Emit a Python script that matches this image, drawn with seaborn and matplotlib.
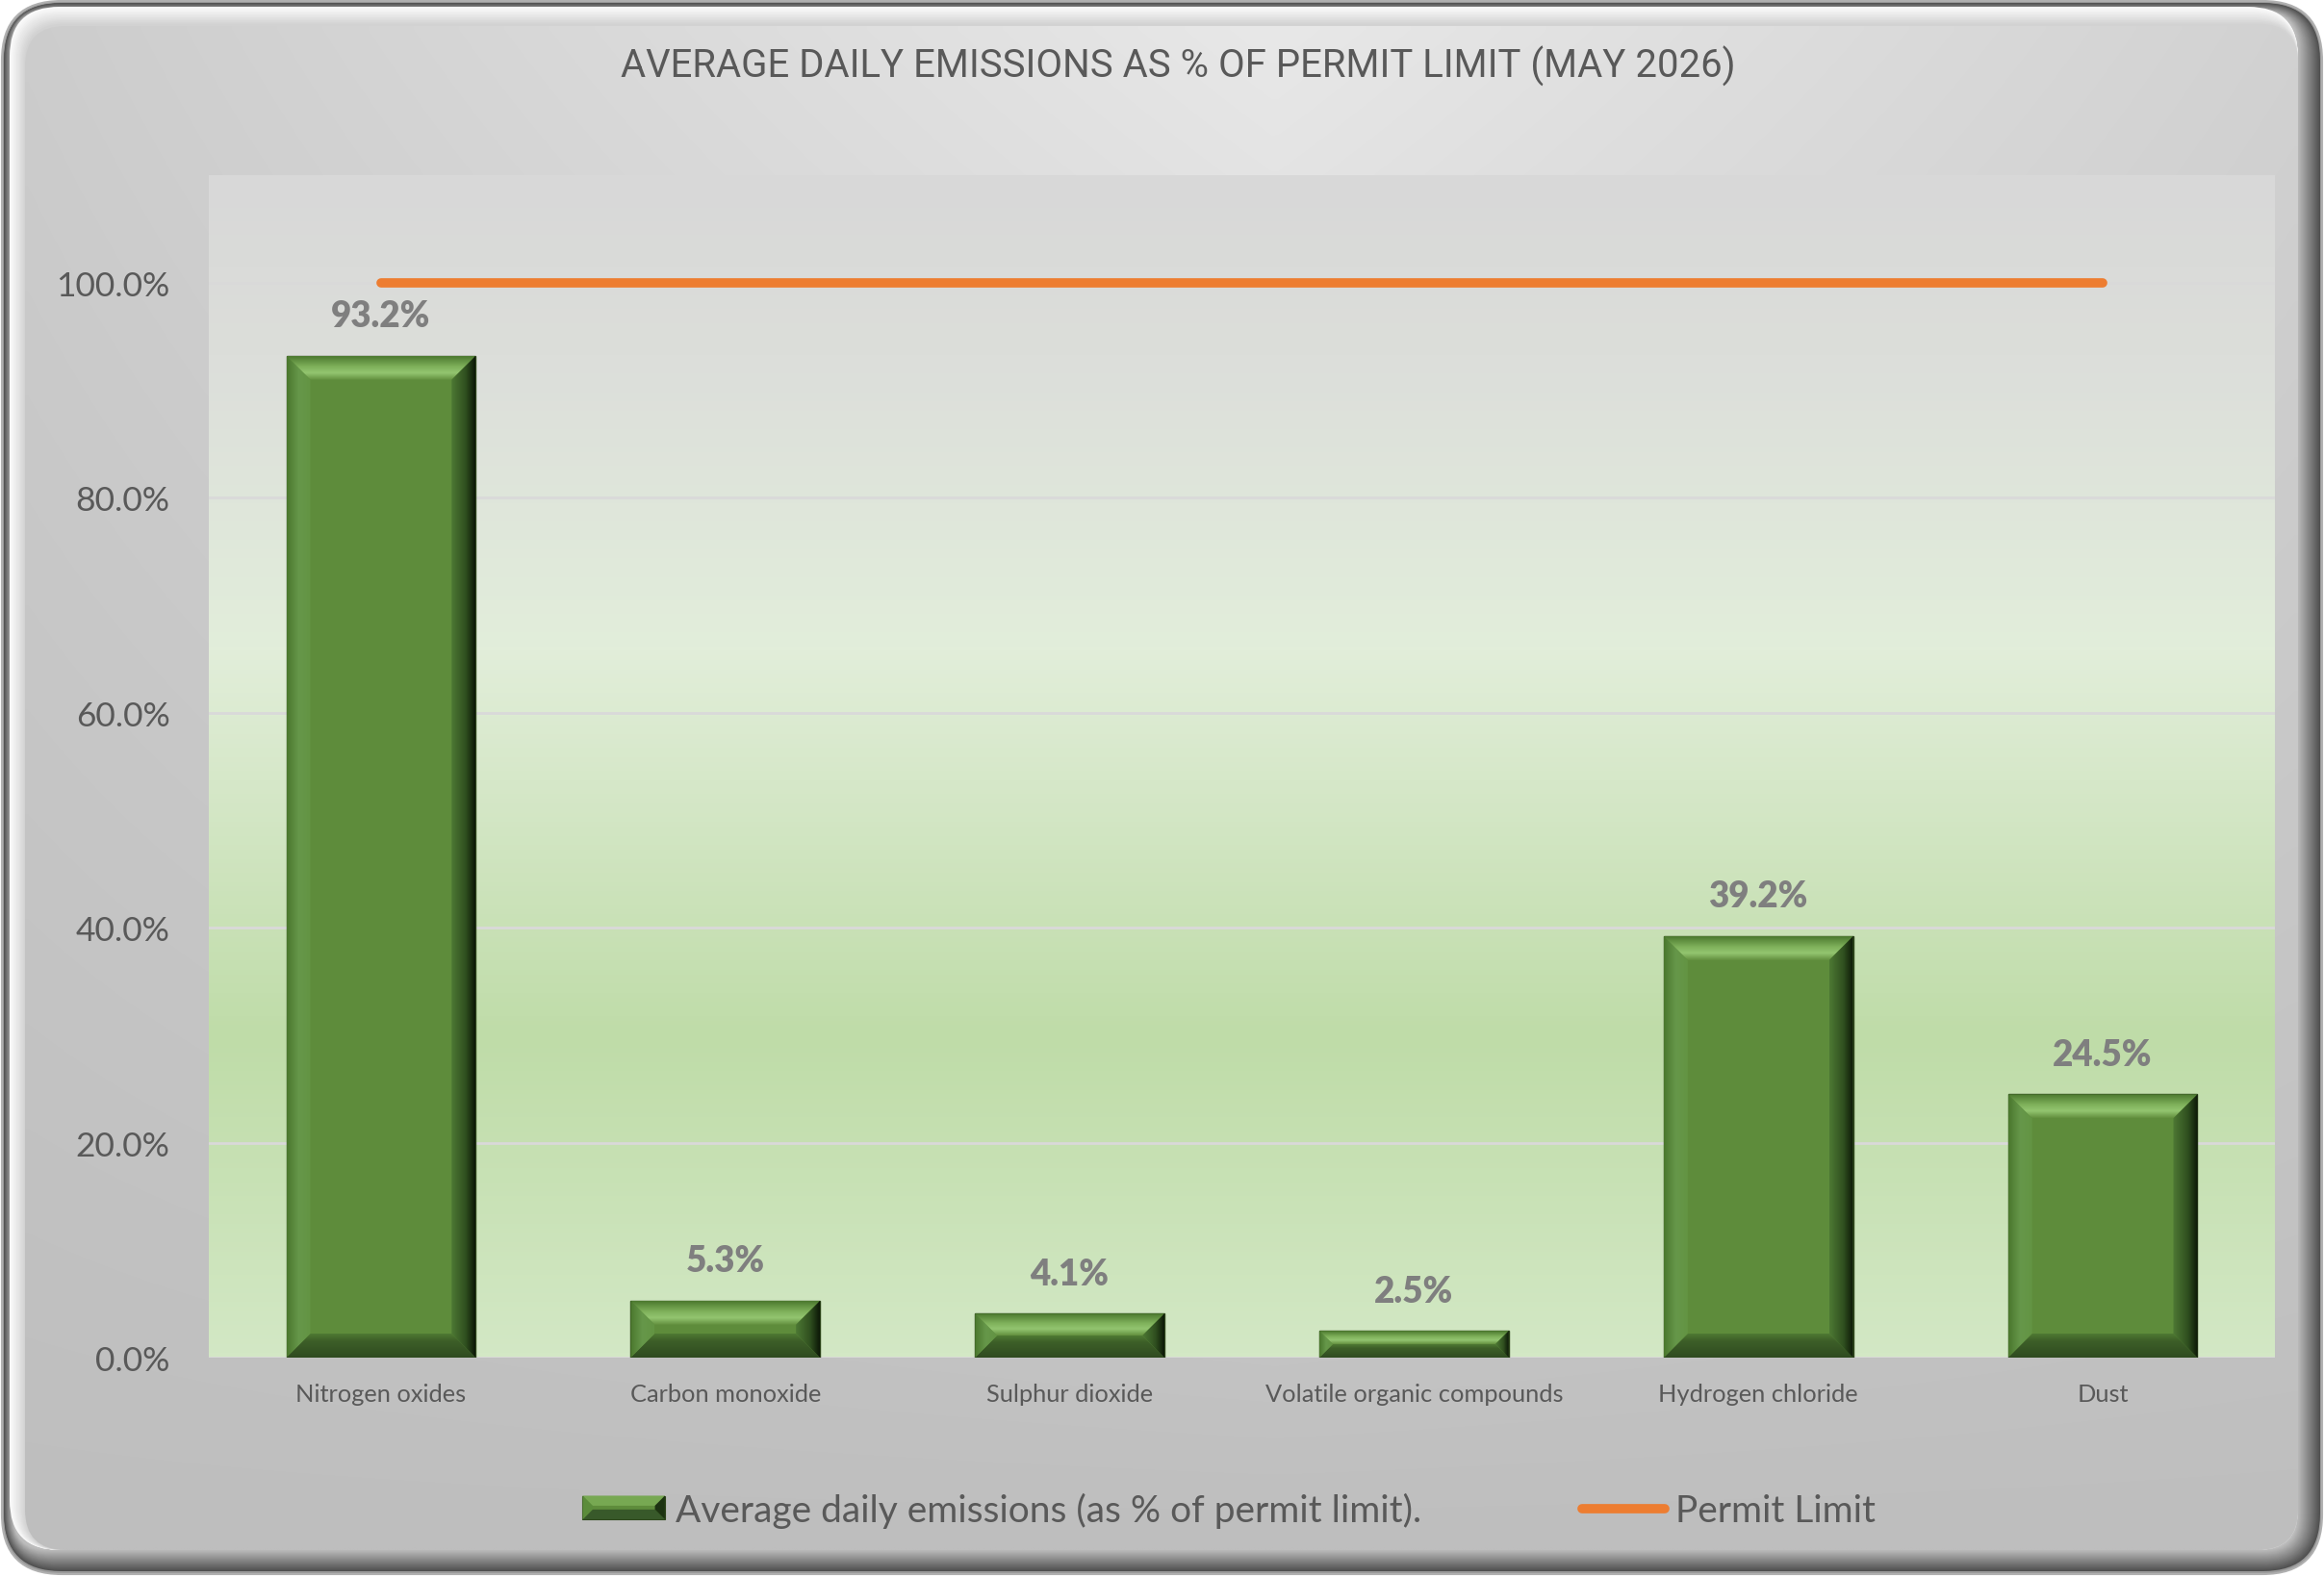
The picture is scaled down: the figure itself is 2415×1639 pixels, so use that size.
import numpy as np
import pandas as pd
import matplotlib.pyplot as plt
import seaborn as sns
from matplotlib import font_manager
from matplotlib.colors import LinearSegmentedColormap, to_rgb
from matplotlib.lines import Line2D
from matplotlib.patches import FancyBboxPatch, Patch, Polygon, Rectangle
from matplotlib.ticker import PercentFormatter

# values
pollutants = ["Nitrogen oxides", "Carbon monoxide", "Sulphur dioxide",
              "Volatile organic compounds", "Hydrogen chloride", "Dust"]
emissions_pct = [93.2, 5.3, 4.1, 2.5, 39.2, 24.5]
permit_limit_pct = [100.0, 100.0, 100.0, 100.0, 100.0, 100.0]
y_ticks = [0, 20, 40, 60, 80, 100]

title = "AVERAGE DAILY EMISSIONS AS % OF PERMIT LIMIT (MAY 2026)"
bar_label = "Average daily emissions (as % of permit limit)."
line_label = "Permit Limit"

W, H = 2415, 1640
GREEN = "#5e8c3b"
ORANGE = "#ed7d31"
TXT = "#595959"

sns.set_theme(style="white")
plt.rcParams["font.family"] = ["Lato", "DejaVu Sans"]

fonts = {f.name for f in font_manager.fontManager.ttflist}
title_font = "Liberation Sans Narrow" if "Liberation Sans Narrow" in fonts else "Roboto"


def cmap_from(colors):
    return LinearSegmentedColormap.from_list("g", colors)


fig = plt.figure(figsize=(W / 100, H / 100), dpi=100)
fig.patch.set_facecolor("white")

# ---- rounded chart frame, drawn in pixel coords (y pointing down) ----
bg = fig.add_axes([0, 0, 1, 1])
bg.axis("off")


def rbox(x0, y0, x1, y1, r, **kw):
    p = FancyBboxPatch((x0, y0), x1 - x0, y1 - y0,
                       boxstyle=f"round,pad=0,rounding_size={r}", **kw)
    bg.add_patch(p)
    return p


rbox(2, 2, 2413, 1637, 62, facecolor="#9a9a9a", edgecolor="#b0b0b0", lw=1.5)
dark, light = np.array(to_rgb("#505050")), np.array(to_rgb("#bcbcbc"))
for i in range(24):
    t = i / 23
    rbox(4 + 0.4 * i, 4 + 0.4 * i, 2411 - 1.0 * i, 1634 - 0.95 * i, 60 - i,
         facecolor=dark * (1 - t) + light * t, edgecolor="none")
hi, mid = np.array(to_rgb("#fbfbfb")), np.array(to_rgb("#d2d2d2"))
for i in range(12):
    t = i / 11
    rbox(10 + 1.4 * i, 8 + 1.6 * i, 2388, 1612, 52 - i,
         facecolor=hi * (1 - t) + mid * t, edgecolor="none")
face = rbox(26, 28, 2388, 1612, 42, facecolor="none", edgecolor="none")
yy, xx = np.mgrid[0:1:240j, 0:1:360j]
v = (232 - 42 * yy - 50 * np.abs(xx - 0.55) * (1 - yy)) / 255
im = bg.imshow(np.dstack([v, v, v]), extent=(26, 2388, 1612, 28),
               aspect="auto", interpolation="bilinear", zorder=1)
im.set_clip_path(face)
bg.set_xlim(0, W)
bg.set_ylim(H, 0)

# ---- plot area ----
ax = fig.add_axes([217 / W, (H - 1412) / H, (2364 - 217) / W, (1412 - 183) / H])
ax.patch.set_visible(False)

df = pd.DataFrame({"Pollutant": pollutants, "Emissions": emissions_pct,
                   "Limit": permit_limit_pct})
sns.barplot(data=df, x="Pollutant", y="Emissions", color=GREEN, saturation=1,
            width=0.55, ax=ax, zorder=2, edgecolor="#2b4219", linewidth=1)
bars = list(ax.patches)

plot_bg = cmap_from([(0, "#d3e8c5"), (0.27, "#bfdca8"), (0.6, "#e2eeda"),
                     (0.85, "#dcdeda"), (1, "#d8d8d8")])
ax.imshow(np.linspace(0, 1, 256).reshape(-1, 1), cmap=plot_bg,
          extent=(-0.5, 5.5, 0, 110), origin="lower", aspect="auto", zorder=0)

# bevel on each bar, sized in pixels
px_x = (2364 - 217) / 6
px_y = (1412 - 183) / 110
top_cm = cmap_from([(0, "#628f3e"), (0.3, "#93c570"), (0.55, "#80b25c"), (1, "#4b782e")])
bot_cm = cmap_from([(0, "#2f4b20"), (0.7, "#3d5f28"), (1, "#4f7a33")])
left_cm = cmap_from([(0, "#4a772d"), (0.5, "#66974a"), (1, "#639443")])
right_cm = cmap_from([(0, "#4e7934"), (0.6, "#2f4f1f"), (1, "#0c1707")])
grad = np.linspace(0, 1, 256)

for bar in bars:
    x0, y0 = bar.get_x(), bar.get_y()
    x1, y1 = x0 + bar.get_width(), y0 + bar.get_height()
    b = min(25, bar.get_height() * px_y / 2, bar.get_width() * px_x / 2)
    bx, by = b / px_x, b / px_y
    faces = [
        ([(x0, y1), (x1, y1), (x1 - bx, y1 - by), (x0 + bx, y1 - by)],
         top_cm, (x0, x1, y1 - by, y1), True),
        ([(x0, y0), (x1, y0), (x1 - bx, y0 + by), (x0 + bx, y0 + by)],
         bot_cm, (x0, x1, y0, y0 + by), True),
        ([(x0, y0), (x0, y1), (x0 + bx, y1 - by), (x0 + bx, y0 + by)],
         left_cm, (x0, x0 + bx, y0, y1), False),
        ([(x1, y0), (x1, y1), (x1 - bx, y1 - by), (x1 - bx, y0 + by)],
         right_cm, (x1 - bx, x1, y0, y1), False),
    ]
    for verts, cm, ext, vertical in faces:
        poly = Polygon(verts, closed=True, facecolor="none", edgecolor="none")
        ax.add_patch(poly)
        arr = grad.reshape(-1, 1) if vertical else grad.reshape(1, -1)
        g = ax.imshow(arr, cmap=cm, extent=ext, origin="lower", aspect="auto",
                      interpolation="bilinear", zorder=3)
        g.set_clip_path(poly)

sns.lineplot(x=np.arange(len(pollutants)), y=permit_limit_pct, ax=ax,
             color=ORANGE, linewidth=7, zorder=5, solid_capstyle="round")

for i, val in enumerate(emissions_pct):
    ax.annotate(f"{val:.1f}%", (i, val), xytext=(0, 22), textcoords="offset points",
                ha="center", va="baseline", fontsize=26.5, fontweight="heavy",
                color="#7f7f7f", zorder=6)

ax.set_xlim(-0.5, 5.5)
ax.set_ylim(0, 110)
ax.set_yticks(y_ticks)
ax.yaxis.set_major_formatter(PercentFormatter(100, decimals=1))
ax.set_xticks(range(len(pollutants)))
ax.set_xticklabels(pollutants)
ax.set_xlabel("")
ax.set_ylabel("")
ax.tick_params(axis="y", labelsize=25.5, labelcolor=TXT, length=0, pad=29)
ax.tick_params(axis="x", labelsize=18.3, labelcolor=TXT, length=0, pad=19)
ax.yaxis.grid(True, color="#d9d9d9", linewidth=2)
ax.xaxis.grid(False)
ax.set_axisbelow(True)
sns.despine(ax=ax, left=True, bottom=True)


class BevelHandler:
    def legend_artist(self, legend, orig_handle, fontsize, handlebox):
        x0, y0 = -handlebox.xdescent, -handlebox.ydescent
        w, h = handlebox.width, handlebox.height
        b = h * 0.42
        tr = handlebox.get_transform()
        base = Rectangle((x0, y0), w, h, facecolor=GREEN, edgecolor="#2b4219",
                         lw=0.8, transform=tr)
        handlebox.add_artist(base)
        x1, y1 = x0 + w, y0 + h
        parts = [
            ([(x0, y1), (x1, y1), (x1 - b, y1 - b), (x0 + b, y1 - b)], "#77a852"),
            ([(x0, y0), (x1, y0), (x1 - b, y0 + b), (x0 + b, y0 + b)], "#38592a"),
            ([(x0, y0), (x0, y1), (x0 + b, y1 - b), (x0 + b, y0 + b)], "#5b8c3b"),
            ([(x1, y0), (x1, y1), (x1 - b, y1 - b), (x1 - b, y0 + b)], "#1d3312"),
        ]
        for verts, c in parts:
            handlebox.add_artist(Polygon(verts, closed=True, facecolor=c,
                                         edgecolor="none", transform=tr))
        return base


handles = [Patch(facecolor=GREEN, label=bar_label),
           Line2D([], [], color=ORANGE, lw=7, solid_capstyle="round", label=line_label)]
leg = fig.legend(handles=handles, loc="center", bbox_to_anchor=(1277 / W, 70 / H),
                 ncol=2, frameon=False, fontsize=28, handlelength=2.2,
                 handleheight=0.6, handletextpad=0.28, columnspacing=4.3,
                 labelcolor=TXT, handler_map={Patch: BevelHandler()})

# title: size tuned so the line spans the same width as in the chart
ttl = fig.text(1224 / W, 1 - 69 / H, title, ha="center", va="center",
               fontsize=30, color=TXT, family=title_font)
renderer = fig.canvas.get_renderer()
tw = ttl.get_window_extent(renderer).width
ttl.set_fontsize(30 * 1157 / tw)

fig.savefig("out.png", dpi=100)
